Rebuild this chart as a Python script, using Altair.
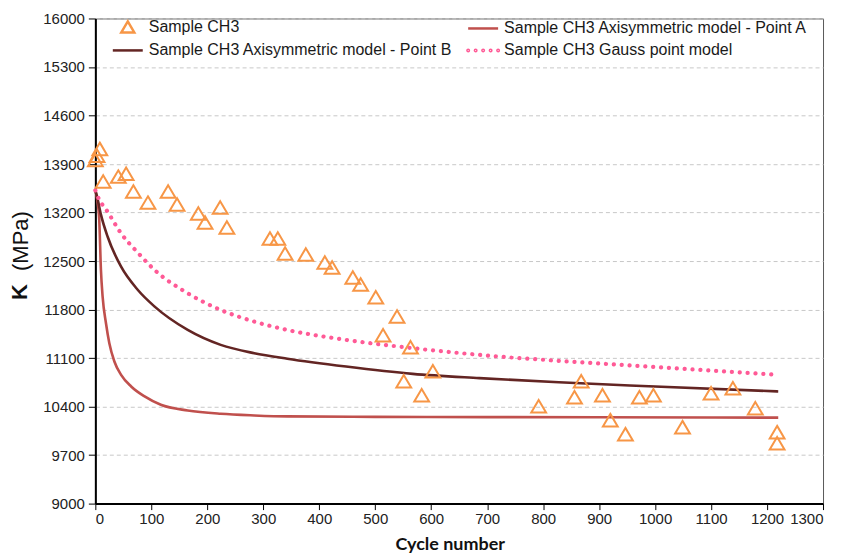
import altair as alt
import pandas as pd

# ---------------- data ----------------
SERIES = [
    "Sample CH3",
    "Sample CH3 Axisymmetric model - Point A",
    "Sample CH3 Axisymmetric model - Point B",
    "Sample CH3 Gauss point model",
]
COLORS = ["#F79646", "#C0504D", "#632523", "#FF5A96"]

ch3_cycle = [0, 3, 8, 14, 41, 55, 68, 94, 130, 146, 184, 196, 223, 235, 312, 326,
             339, 376, 410, 423, 460, 474, 501, 539, 514, 563, 603, 551, 583, 792,
             856, 868, 906, 920, 947, 972, 997, 1049, 1100, 1139, 1179, 1218, 1218]
ch3_k = [13950, 14010, 14110, 13640, 13710, 13750, 13494, 13335, 13494, 13307,
         13177, 13047, 13263, 12975, 12817, 12817, 12601, 12587, 12471, 12399,
         12255, 12154, 11970, 11693, 11420, 11247, 10901, 10757, 10556, 10397,
         10527, 10757, 10556, 10196, 9994, 10527, 10556, 10095, 10584, 10657,
         10368, 10023, 9864]

a_cycle = [0, 3, 7, 10, 13, 19, 25, 34, 46, 64, 88, 117, 165, 224, 284, 343,
           500, 700, 900, 1100, 1220]
a_k = [13520, 13400, 13090, 12370, 11986, 11602, 11314, 11050, 10858, 10690,
       10546, 10426, 10344, 10296, 10272, 10258, 10252, 10248, 10245, 10242, 10240]

b_cycle = [0, 3, 10, 22, 46, 76, 106, 165, 224, 284, 343, 448, 567, 686, 828,
           1000, 1220]
b_k = [13520, 13430, 13170, 12850, 12418, 12082, 11842, 11506, 11290, 11170,
       11090, 10977, 10872, 10810, 10750, 10690, 10618]

g_cycle = [0, 4, 22, 46, 76, 106, 165, 224, 284, 343, 448, 567, 686, 828, 1000,
           1220]
g_k = [13520, 13436, 13210, 12899, 12620, 12370, 12035, 11794, 11626, 11506,
       11362, 11243, 11146, 11060, 10970, 10858]

x_ticks = list(range(0, 1301, 100))
y_ticks = list(range(9000, 16001, 700))

# ---------------- tables ----------------
df_pts = pd.DataFrame({"cycle": ch3_cycle, "K": ch3_k, "series": SERIES[0]})
df_a = pd.DataFrame({"cycle": a_cycle, "K": a_k})
df_b = pd.DataFrame({"cycle": b_cycle, "K": b_k})
df_g = pd.DataFrame({"cycle": g_cycle, "K": g_k})


def dot(cx, r=0.15):
    return (f"M{cx - r},0a{r},{r} 0 1,0 {2 * r},0a{r},{r} 0 1,0 {-2 * r},0")


SHAPES = [
    "M0,-1.2L1.3,1L-1.3,1Z",
    "M-3,0H3",
    "M-3,0H3",
    "".join(dot(c) for c in [-3, -1.5, 0, 1.5, 3]),
]

FONT = "Liberation Sans"

x_enc = alt.X(
    "cycle:Q",
    scale=alt.Scale(domain=[0, 1300], nice=False, zero=False),
    axis=alt.Axis(values=x_ticks, format="d", labelOverlap=False,
                  title="Cycle number", grid=False,
                  labelFont=FONT, labelFontSize=15, labelColor="#222222",
                  domainColor="#000000", domainWidth=2, tickColor="#000000",
                  tickSize=6, labelPadding=2, titleFont="Lato",
                  titleFontSize=18, titleFontWeight="bold", titleColor="#111111",
                  titlePadding=9, titleX=355),
)
y_enc = alt.Y(
    "K:Q",
    scale=alt.Scale(domain=[9000, 16000], nice=False, zero=False),
    axis=alt.Axis(values=y_ticks, format="d", labelOverlap=False, title=None,
                  grid=True, gridColor="#C8C8C8",
                  gridDash=[4, 3], gridWidth=1, labelFont=FONT,
                  labelFontSize=15, labelColor="#222222", domainColor="#000000",
                  domainWidth=2, tickColor="#000000", tickSize=7,
                  labelPadding=4),
)

legend = alt.Legend(
    title=None, orient="none", legendX=24.5, legendY=1, columns=2,
    direction="horizontal", columnPadding=9, rowPadding=5, labelFont=FONT,
    labelFontSize=16, labelColor="#1a1a1a", labelOffset=13, labelLimit=0,
    symbolSize=100, symbolStrokeWidth=2.5, padding=0,
)

line_a = alt.Chart(df_a).mark_line(
    color=COLORS[1], strokeWidth=2.6, interpolate="monotone"
).encode(x=x_enc, y=y_enc)
line_b = alt.Chart(df_b).mark_line(
    color=COLORS[2], strokeWidth=2.6, interpolate="monotone"
).encode(x=x_enc, y=y_enc)
line_g = alt.Chart(df_g).mark_line(
    color=COLORS[3], strokeWidth=4.2, strokeDash=[0.1, 7.8], strokeCap="round",
    interpolate="monotone"
).encode(x=x_enc, y=y_enc)

pts = alt.Chart(df_pts).mark_point(
    filled=False, strokeWidth=2, size=130, opacity=1
).encode(
    x=x_enc,
    y=y_enc,
    color=alt.Color("series:N", scale=alt.Scale(domain=SERIES, range=COLORS),
                    legend=legend),
    shape=alt.Shape("series:N", scale=alt.Scale(domain=SERIES, range=SHAPES),
                    legend=legend),
)

k_title = alt.Chart(alt.Data(values=[{"t": "K"}])).mark_text(
    angle=270, font=FONT, fontSize=22, fontWeight="bold", color="#111111",
    align="center", baseline="middle"
).encode(x=alt.value(-75), y=alt.value(274), text="t:N")
mpa_title = alt.Chart(alt.Data(values=[{"t": "(MPa)"}])).mark_text(
    angle=270, font=FONT, fontSize=22, color="#111111",
    align="center", baseline="middle"
).encode(x=alt.value(-74), y=alt.value(223), text="t:N")

chart = alt.layer(line_a, line_b, line_g, pts, k_title, mpa_title).properties(
    width=729, height=486,
    autosize=alt.AutoSizeParams(type="none"),
    padding={"left": 87.5, "top": 10, "right": 10, "bottom": 50},
    background="white",
).configure_view(stroke="#595959", strokeWidth=1)

chart.save("out.html", embed_options={"renderer": "svg", "actions": False})
